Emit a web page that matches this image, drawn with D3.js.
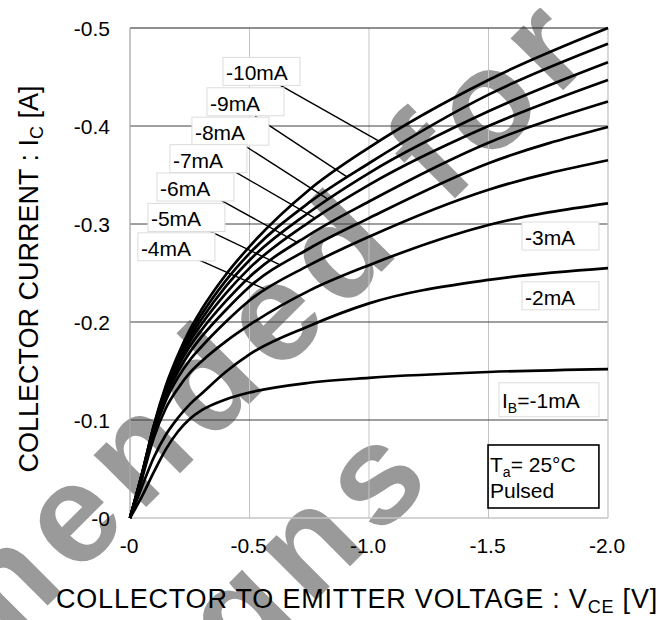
<!DOCTYPE html>
<html><head><meta charset="utf-8">
<script src="https://cdn.jsdelivr.net/npm/d3@7"></script>
<style>body{margin:0;background:#fff}svg{display:block;font-family:"Liberation Sans",Arial,sans-serif}</style>
</head><body><svg id="c" width="667" height="620"></svg>
<script>
// ---- data ----
const vce = [0, -0.05, -0.1, -0.15, -0.2, -0.25, -0.3, -0.4, -0.5, -0.75, -1.0, -1.5, -2.0];
const ibNames = ["-10mA","-9mA","-8mA","-7mA","-6mA","-5mA","-4mA","-3mA","-2mA","-1mA"];
const ic_10 = [0,-0.045,-0.095,-0.135,-0.166,-0.192,-0.213,-0.248,-0.277,-0.335,-0.378,-0.447,-0.500];
const ic_9  = [0,-0.045,-0.094,-0.133,-0.163,-0.188,-0.208,-0.242,-0.270,-0.322,-0.362,-0.432,-0.484];
const ic_8  = [0,-0.045,-0.093,-0.131,-0.160,-0.184,-0.203,-0.236,-0.263,-0.312,-0.352,-0.415,-0.465];
const ic_7  = [0,-0.044,-0.092,-0.129,-0.157,-0.180,-0.198,-0.229,-0.255,-0.302,-0.340,-0.400,-0.447];
const ic_6  = [0,-0.044,-0.091,-0.127,-0.154,-0.175,-0.192,-0.221,-0.246,-0.289,-0.323,-0.383,-0.425];
const ic_5  = [0,-0.043,-0.089,-0.124,-0.149,-0.169,-0.185,-0.212,-0.236,-0.275,-0.306,-0.362,-0.399];
const ic_4  = [0,-0.042,-0.087,-0.120,-0.143,-0.161,-0.175,-0.200,-0.222,-0.258,-0.287,-0.335,-0.365];
const ic_3  = [0,-0.040,-0.082,-0.112,-0.132,-0.148,-0.160,-0.180,-0.197,-0.232,-0.258,-0.299,-0.321];
const ic_2  = [0,-0.032,-0.062,-0.085,-0.102,-0.116,-0.127,-0.149,-0.167,-0.196,-0.219,-0.243,-0.255];
const ic_1  = [0,-0.022,-0.047,-0.070,-0.088,-0.101,-0.110,-0.121,-0.128,-0.138,-0.143,-0.149,-0.152];
const xTicks = [0,-0.5,-1.0,-1.5,-2.0];
const xTickLabels = ["-0","-0.5","-1.0","-1.5","-2.0"];
const yTicks = [0,-0.1,-0.2,-0.3,-0.4,-0.5];
const yTickLabels = ["-0","-0.1","-0.2","-0.3","-0.4","-0.5"];
const watermarkLines = ["Not Recommended for","New Designs"];

const series = [ic_10,ic_9,ic_8,ic_7,ic_6,ic_5,ic_4,ic_3,ic_2,ic_1];

// ---- annotation placement (data units) ----
const leaderLabels = [
  {i:0, bx:-0.389, by:-0.470, sx:-0.611, sy:-0.444, tx:-1.042},
  {i:1, bx:-0.322, by:-0.439, sx:-0.523, sy:-0.410, tx:-0.908},
  {i:2, bx:-0.259, by:-0.409, sx:-0.460, sy:-0.383, tx:-0.828},
  {i:3, bx:-0.167, by:-0.381, sx:-0.406, sy:-0.358, tx:-0.774},
  {i:4, bx:-0.113, by:-0.352, sx:-0.368, sy:-0.326, tx:-0.699},
  {i:5, bx:-0.075, by:-0.321, sx:-0.305, sy:-0.296, tx:-0.628},
  {i:6, bx:-0.033, by:-0.291, sx:-0.264, sy:-0.266, tx:-0.565}
];
const plainLabels = [
  {i:7, bx:-1.640, by:-0.302},
  {i:8, bx:-1.640, by:-0.241}
];

const svg = d3.select("#c");
const x = d3.scaleLinear().domain([0,-2]).range([130,608]);
const y = d3.scaleLinear().domain([0,-0.5]).range([518,28]);

// watermark (bottom layer), placed in a frame rotated by -45 degrees
const wm = svg.append("g").attr("transform","rotate(-45)")
  .attr("fill","#9a9a9a").attr("font-weight","bold").attr("font-size",140)
  .attr("letter-spacing",12);
const w1 = wm.append("text").attr("x",0).attr("y",462).text(watermarkLines[0]);
w1.attr("x", 227 - w1.node().getStartPositionOfChar(17).x);
const w2 = wm.append("text").attr("x",0).attr("y",648).text(watermarkLines[1]);
w2.attr("x", -113 - w2.node().getStartPositionOfChar(10).x);

// grid
const g = svg.append("g");
g.selectAll(".vg").data(xTicks.slice(1,-1)).join("line")
  .attr("x1",d=>x(d)).attr("x2",d=>x(d)).attr("y1",y(0)).attr("y2",y(-0.5))
  .attr("stroke","#c4c4c4").attr("stroke-width",1);
g.selectAll(".hg").data(yTicks.slice(1,-1)).join("line")
  .attr("x1",x(0)).attr("x2",x(-2)).attr("y1",d=>y(d)).attr("y2",d=>y(d))
  .attr("stroke","#404040").attr("stroke-width",1);
// frame
g.append("line").attr("x1",x(0)).attr("x2",x(-2)).attr("y1",y(-0.5)).attr("y2",y(-0.5)).attr("stroke","#202020");
g.append("line").attr("x1",x(0)).attr("x2",x(-2)).attr("y1",y(0)).attr("y2",y(0)).attr("stroke","#c4c4c4").attr("stroke-width",1.3);
g.append("line").attr("x1",x(0)).attr("x2",x(0)).attr("y1",y(0)).attr("y2",y(-0.5)).attr("stroke","#a8a8a8").attr("stroke-width",1.3);
g.append("line").attr("x1",x(-2)).attr("x2",x(-2)).attr("y1",y(0)).attr("y2",y(-0.5)).attr("stroke","#c4c4c4").attr("stroke-width",1.3);

// tick labels
svg.append("g").attr("font-size",21).attr("text-anchor","end")
  .selectAll("text").data(yTicks).join("text")
  .attr("x",x(0)-20).attr("y",d=>y(d)+7.5).text((d,i)=>yTickLabels[i]);
svg.append("g").attr("font-size",21).attr("text-anchor","middle")
  .selectAll("text").data(xTicks).join("text")
  .attr("x",d=>x(d)-1).attr("y",y(0)+35).text((d,i)=>xTickLabels[i]);

// axis titles
const yt = svg.append("text").attr("transform","translate(38,279) rotate(-90)")
  .attr("text-anchor","middle").attr("font-size",27);
yt.append("tspan").text("COLLECTOR CURRENT : I");
yt.append("tspan").attr("font-size",18).attr("dy",5).text("C");
yt.append("tspan").attr("dy",-5).text(" [A]");
const xt = svg.append("text").attr("x",357).attr("y",608)
  .attr("text-anchor","middle").attr("font-size",27).attr("letter-spacing",0.8);
xt.append("tspan").text("COLLECTOR TO EMITTER VOLTAGE : V");
xt.append("tspan").attr("font-size",18).attr("dy",5).text("CE");
xt.append("tspan").attr("dy",-5).text(" [V]");

// curves
const line = d3.line().x((d,i)=>x(vce[i])).y(d=>y(d)).curve(d3.curveMonotoneX);
const paths = svg.append("g").selectAll("path").data(series).join("path")
  .attr("d",line).attr("fill","none").attr("stroke","#000").attr("stroke-width",2.7)
  .attr("stroke-linejoin","round");

function yAtX(node, px){
  let lo=0, hi=node.getTotalLength();
  for(let k=0;k<40;k++){const m=(lo+hi)/2; const p=node.getPointAtLength(m); if(p.x<px) lo=m; else hi=m;}
  return node.getPointAtLength((lo+hi)/2).y;
}

// leader labels
const lab = svg.append("g");
leaderLabels.forEach(L=>{
  const px = x(L.tx), py = yAtX(paths.nodes()[L.i], px);
  lab.append("line").attr("x1",x(L.sx)).attr("y1",y(L.sy)).attr("x2",px).attr("y2",py)
    .attr("stroke","#000").attr("stroke-width",1.4);
});
function box(bx,by,w,h){
  lab.append("rect").attr("x",x(bx)).attr("y",y(by)).attr("width",w).attr("height",h)
    .attr("fill","#fff").attr("stroke","#dcdcdc").attr("stroke-width",1);
}
leaderLabels.concat(plainLabels).forEach(L=>{
  box(L.bx,L.by,77,28);
  lab.append("text").attr("x",x(L.bx)+3).attr("y",y(L.by)+23).attr("font-size",21).text(ibNames[L.i]);
});
// IB = -1mA
box(-1.544,-0.138,100,34);
const t1 = lab.append("text").attr("x",x(-1.544)+3).attr("y",y(-0.138)+25).attr("font-size",21);
t1.append("tspan").text("I");
t1.append("tspan").attr("font-size",14).attr("dy",5).text("B");
t1.append("tspan").attr("dy",-5).text("=" + ibNames[9]);

// condition box
lab.append("rect").attr("x",x(-1.498)).attr("y",y(-0.0745)).attr("width",x(-1.962)-x(-1.498)).attr("height",y(-0.0102)-y(-0.0745))
  .attr("fill","none").attr("stroke","#000").attr("stroke-width",1.6);
const t2 = lab.append("text").attr("x",x(-1.498)+2).attr("y",y(-0.0745)+27).attr("font-size",21);
t2.append("tspan").text("T");
t2.append("tspan").attr("font-size",14).attr("dy",5).text("a");
t2.append("tspan").attr("dy",-5).text("= 25°C");
lab.append("text").attr("x",x(-1.498)+2).attr("y",y(-0.0745)+53).attr("font-size",21).text("Pulsed");
</script></body></html>
